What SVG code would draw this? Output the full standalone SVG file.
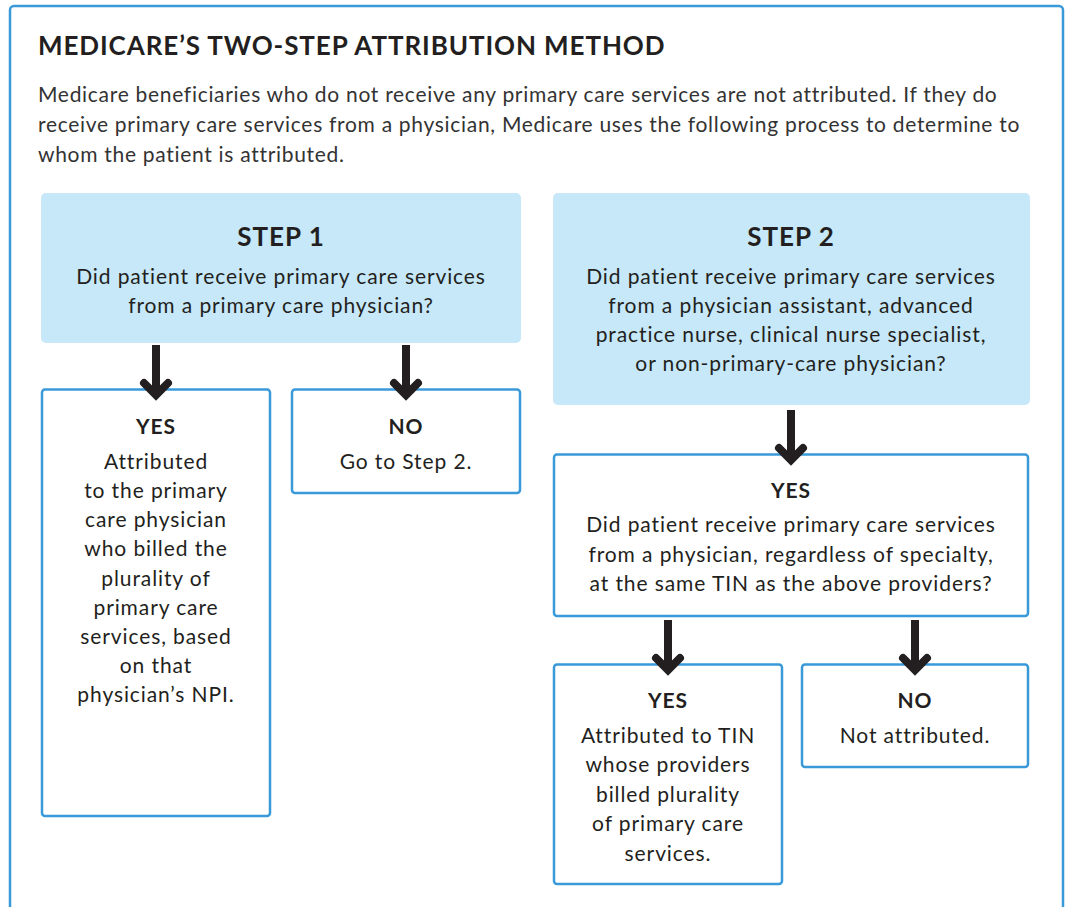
<svg xmlns="http://www.w3.org/2000/svg" width="1065" height="907" viewBox="0 0 1065 907">
<style>
text{font-family:Lato,"Noto Sans","Liberation Sans",sans-serif;fill:#231f20}
.title{font-size:26px;font-weight:bold;letter-spacing:0.9px}
.para{font-size:21px;fill:#333;letter-spacing:0.7px}
.step{font-size:26px;font-weight:bold;text-anchor:middle;letter-spacing:1px}
.hd{font-size:21px;font-weight:bold;text-anchor:middle;letter-spacing:1px}
.t{font-size:21px;text-anchor:middle;letter-spacing:0.9px}
.blue{fill:#c6e8f8}
.box{fill:#fff;stroke:#3a9ad9;stroke-width:2.5}
.arr{fill:none;stroke:#231f20;stroke-width:8}
</style>
<defs>
<g id="arrow"><path class="arr" d="M0,-52 V-4"/><path class="arr" d="M-12,-14 L0,-2 L12,-14" stroke-linecap="round" stroke-linejoin="miter"/></g>
</defs>
<path d="M10,907 V10 a4,4 0 0 1 4,-4 H1059 a4,4 0 0 1 4,4 V907" fill="none" stroke="#3a9ad9" stroke-width="2.5"/>
<text class="title" x="38" y="55">MEDICARE’S TWO-STEP ATTRIBUTION METHOD</text>
<text class="para" x="38" y="102">Medicare beneficiaries who do not receive any primary care services are not attributed. If they do</text>
<text class="para" x="38" y="132">receive primary care services from a physician, Medicare uses the following process to determine to</text>
<text class="para" x="38" y="162">whom the patient is attributed.</text>
<g id="step1">
<rect class="blue" x="41" y="193" width="480" height="150" rx="5"/>
<text class="step" x="281" y="246">STEP 1</text>
<text class="t" x="281" y="284">Did patient receive primary care services</text>
<text class="t" x="281" y="313">from a primary care physician?</text>
</g>
<g id="step2">
<rect class="blue" x="553" y="193" width="477" height="212" rx="5"/>
<text class="step" x="791" y="246">STEP 2</text>
<text class="t" x="791" y="284">Did patient receive primary care services</text>
<text class="t" x="791" y="313">from a physician assistant, advanced</text>
<text class="t" x="791" y="342">practice nurse, clinical nurse specialist,</text>
<text class="t" x="791" y="371">or non-primary-care physician?</text>
</g>
<g id="yes1">
<rect class="box" x="42" y="389.5" width="228" height="426.5" rx="3"/>
<text class="hd" x="156" y="434">YES</text>
<text class="t" x="156" y="469">Attributed</text>
<text class="t" x="156" y="498">to the primary</text>
<text class="t" x="156" y="527">care physician</text>
<text class="t" x="156" y="556">who billed the</text>
<text class="t" x="156" y="586">plurality of</text>
<text class="t" x="156" y="615">primary care</text>
<text class="t" x="156" y="644">services, based</text>
<text class="t" x="156" y="673">on that</text>
<text class="t" x="156" y="702">physician’s NPI.</text>
</g>
<g id="no1">
<rect class="box" x="292" y="389.5" width="228" height="103.5" rx="3"/>
<text class="hd" x="406" y="434">NO</text>
<text class="t" x="406" y="469">Go to Step 2.</text>
</g>
<g id="yes2">
<rect class="box" x="554" y="454.5" width="474" height="161.5" rx="3"/>
<text class="hd" x="791" y="498">YES</text>
<text class="t" x="791" y="532">Did patient receive primary care services</text>
<text class="t" x="791" y="562">from a physician, regardless of specialty,</text>
<text class="t" x="791" y="591">at the same TIN as the above providers?</text>
</g>
<g id="yes3">
<rect class="box" x="554" y="664.5" width="228" height="219.5" rx="3"/>
<text class="hd" x="668" y="708">YES</text>
<text class="t" x="668" y="743">Attributed to TIN</text>
<text class="t" x="668" y="772">whose providers</text>
<text class="t" x="668" y="802">billed plurality</text>
<text class="t" x="668" y="831">of primary care</text>
<text class="t" x="668" y="861">services.</text>
</g>
<g id="no3">
<rect class="box" x="802" y="664.5" width="226" height="102.5" rx="3"/>
<text class="hd" x="915" y="708">NO</text>
<text class="t" x="915" y="743">Not attributed.</text>
</g>
<g id="connectors">
<use href="#arrow" transform="translate(156,397)"/>
<use href="#arrow" transform="translate(406,397)"/>
<use href="#arrow" transform="translate(791,462)"/>
<use href="#arrow" transform="translate(668,672)"/>
<use href="#arrow" transform="translate(915,672)"/>
</g>
</svg>
